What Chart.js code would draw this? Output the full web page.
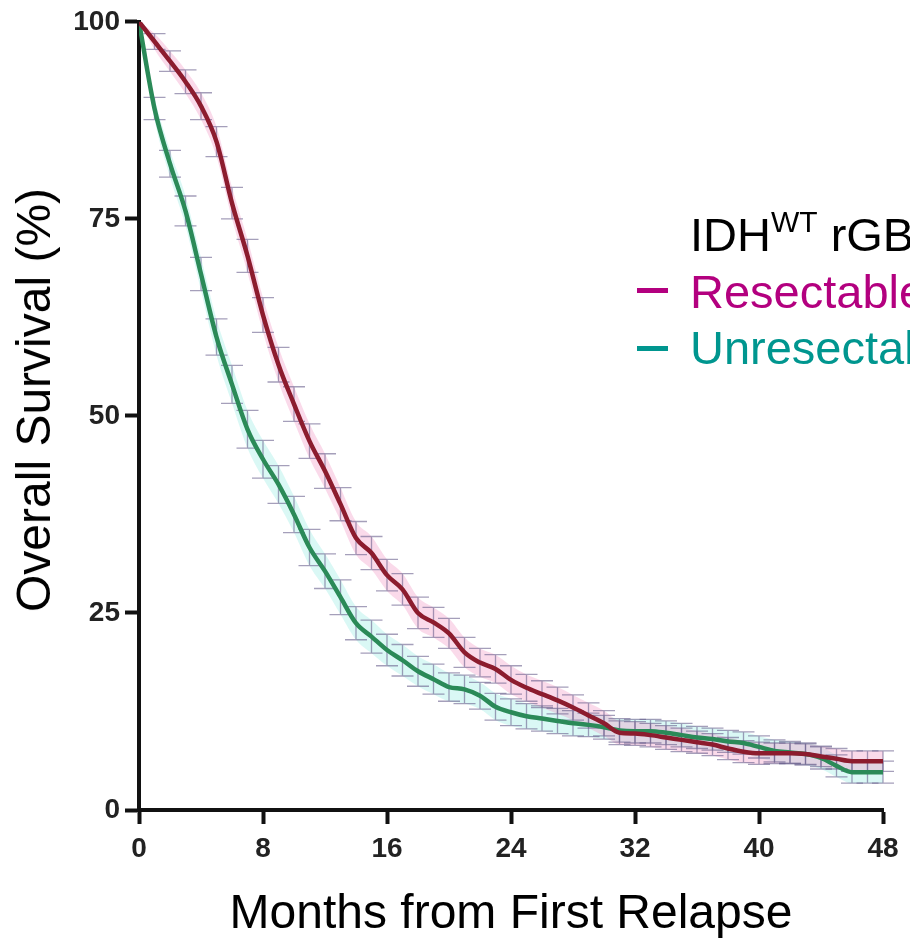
<!DOCTYPE html>
<html>
<head>
<meta charset="utf-8">
<script src="https://cdn.jsdelivr.net/npm/chart.js@4.4.1/dist/chart.umd.min.js"></script>
<style>
  html, body { margin: 0; padding: 0; background: #fff; overflow: hidden; }
  #wrap { position: relative; width: 910px; height: 944px; overflow: hidden; }
  #chart { position: absolute; left: 0; top: 0; }
  .leg { position: absolute; left: 690px; font-family: "Liberation Sans", Arial, sans-serif; font-size: 47px; line-height: 47px; white-space: nowrap; }
  .leg sup { font-size: 30px; position: relative; top: -4px; vertical-align: top; line-height: 30px; }
  .dash { position: absolute; left: 637px; width: 31px; height: 5px; }
  #ytitle { position: absolute; left: 34px; top: 400px; transform: translate(-50%, -50%) rotate(-90deg);
    font-family: "Liberation Sans", Arial, sans-serif; font-size: 48px; line-height: 48px; white-space: nowrap; color: #000; }
</style>
</head>
<body>
<div id="wrap">
  <canvas id="chart" width="910" height="944"></canvas>
  <div id="ytitle">Overall Survival (%)</div>
  <div class="leg" style="top:211px;color:#000">IDH<sup>WT</sup> rGBM</div>
  <div class="dash" style="top:288px;background:#b3007f"></div>
  <div class="leg" style="top:268px;color:#b3007f">Resectable</div>
  <div class="dash" style="top:346px;background:#00968f"></div>
  <div class="leg" style="top:324px;color:#00968f">Unresectable</div>
</div>
<script>
const months = [0, 1, 2, 3, 4, 5, 6, 7, 8, 9, 10, 11, 12, 13, 14, 15, 16, 17, 18, 19, 20, 21, 22, 23, 24,
  25, 26, 27, 28, 29, 30, 31, 32, 33, 34, 35, 36, 37, 38, 39, 40, 41, 42, 43, 44, 45, 46, 47, 48];

const resectable = [100, 97.5, 95, 92.4, 89.3, 84.8, 77, 70.3, 62.8, 56.5, 51.5, 46.8, 43, 38.8, 34.5, 32.6, 29.8, 28, 25,
  23.8, 22.4, 20, 18.7, 17.9, 16.5, 15.5, 14.7, 13.9, 13, 12, 11, 9.8, 9.7, 9.5, 9.2, 8.9, 8.6, 8.3, 7.8, 7.4,
  7.2, 7.2, 7.2, 7.1, 6.8, 6.5, 6.2, 6.2, 6.2];

const unresectable = [100, 89, 82, 76, 68, 60, 54, 48.3, 44.5, 41.3, 37.5, 33.3, 30.3, 27, 23.7, 22, 20.3, 19, 17.6,
  16.6, 15.6, 15.3, 14.5, 13.1, 12.4, 11.9, 11.6, 11.3, 11, 10.8, 10.5, 10.1, 10, 10, 9.8, 9.5, 9.2, 9, 8.7, 8.5,
  8, 7.5, 7.3, 7.1, 6.6, 5.6, 4.8, 4.8, 4.8];

const resectableErr = [0, 1, 1.3, 1.5, 1.7, 1.9, 2, 2.1, 2.2, 2.2, 2.2, 2.2, 2.2, 2.1, 2.1, 2.1, 2, 2, 2, 1.9, 1.9,
  1.9, 1.8, 1.8, 1.8, 1.7, 1.7, 1.7, 1.6, 1.6, 1.6, 1.5, 1.5, 1.5, 1.5, 1.5, 1.4, 1.4, 1.4, 1.4, 1.4, 1.3, 1.3,
  1.3, 1.3, 1.3, 1.3, 1.3, 1.3];

const unresectableErr = [0, 1.4, 1.7, 1.9, 2.1, 2.3, 2.4, 2.4, 2.4, 2.4, 2.3, 2.3, 2.2, 2.2, 2.1, 2.1, 2, 2, 1.9,
  1.9, 1.8, 1.8, 1.7, 1.7, 1.7, 1.6, 1.6, 1.6, 1.6, 1.5, 1.5, 1.5, 1.5, 1.5, 1.5, 1.5, 1.4, 1.4, 1.4, 1.4, 1.4,
  1.4, 1.4, 1.4, 1.4, 1.4, 1.4, 1.4, 1.4];

const xTicks = [0, 8, 16, 24, 32, 40, 48];
const yTicks = [0, 25, 50, 75, 100];

const RED = "#8c1c2e";
const GREEN = "#2b8a58";

function toPoints(values, offsets, sign) {
  return months.map((m, i) => ({ x: m, y: values[i] + (offsets ? sign * offsets[i] : 0) }));
}

function mainLine(values, color) {
  return {
    data: toPoints(values),
    borderColor: color,
    borderWidth: 4.5,
    pointRadius: 0,
    cubicInterpolationMode: "monotone",
    fill: false
  };
}

function bandEdge(values, errs, sign, fillColor) {
  return {
    data: toPoints(values, errs, sign),
    borderColor: "transparent",
    borderWidth: 0,
    pointRadius: 0,
    cubicInterpolationMode: "monotone",
    backgroundColor: fillColor,
    fill: sign < 0 ? "-1" : false
  };
}

// error bars with caps, drawn under the two main lines
const errorBars = {
  id: "errorBars",
  beforeDatasetDraw(chart, args) {
    if (args.index !== 1) return;
    const { ctx, scales: { x, y } } = chart;
    const sets = [[resectable, resectableErr], [unresectable, unresectableErr]];
    ctx.save();
    ctx.strokeStyle = "rgba(105, 95, 140, 0.6)";
    ctx.lineWidth = 1.3;
    sets.forEach(([vals, errs]) => {
      vals.forEach((v, i) => {
        if (!errs[i]) return;
        const px = x.getPixelForValue(months[i]);
        const top = y.getPixelForValue(v + errs[i]);
        const bot = y.getPixelForValue(v - errs[i]);
        ctx.beginPath();
        ctx.moveTo(px, top);
        ctx.lineTo(px, bot);
        ctx.moveTo(px - 11, top);
        ctx.lineTo(px + 11, top);
        ctx.moveTo(px - 11, bot);
        ctx.lineTo(px + 11, bot);
        ctx.stroke();
      });
    });
    ctx.restore();
  }
};

const tickFont = { family: "'Liberation Sans', Arial, sans-serif", size: 28, weight: "bold" };
const titleFont = { family: "'Liberation Sans', Arial, sans-serif", size: 48, weight: "normal" };

new Chart(document.getElementById("chart"), {
  type: "line",
  data: {
    datasets: [
      mainLine(resectable, RED),
      mainLine(unresectable, GREEN),
      bandEdge(resectable, resectableErr, 1, "rgba(240, 150, 195, 0.35)"),
      bandEdge(resectable, resectableErr, -1, "rgba(240, 150, 195, 0.35)"),
      bandEdge(unresectable, unresectableErr, 1, "rgba(150, 235, 225, 0.35)"),
      bandEdge(unresectable, unresectableErr, -1, "rgba(150, 235, 225, 0.35)")
    ]
  },
  options: {
    responsive: false,
    animation: false,
    layout: { padding: { top: 20, right: 27, bottom: 0, left: 0 } },
    plugins: {
      legend: { display: false },
      tooltip: { enabled: false }
    },
    scales: {
      x: {
        type: "linear",
        min: 0,
        max: 48,
        afterBuildTicks(axis) {
          axis.ticks = xTicks.map((v) => ({ value: v }));
        },
        afterFit(axis) {
          axis.height = 134;
        },
        border: { color: "#111", width: 4 },
        grid: { drawOnChartArea: false, drawTicks: true, tickLength: 14, tickWidth: 4, tickColor: "#111", color: "#111" },
        ticks: { font: tickFont, color: "#222", padding: 8, maxRotation: 0 },
        title: { display: true, text: "Months from First Relapse", font: titleFont, color: "#000", padding: { top: 0, bottom: 0 } }
      },
      y: {
        min: 0,
        max: 100,
        afterBuildTicks(axis) {
          axis.ticks = yTicks.map((v) => ({ value: v }));
        },
        afterFit(axis) {
          axis.width = 139;
        },
        border: { color: "#111", width: 4 },
        grid: { drawOnChartArea: false, drawTicks: true, tickLength: 14, tickWidth: 4, tickColor: "#111", color: "#111" },
        ticks: { font: tickFont, color: "#222", padding: 5 }
      }
    }
  },
  plugins: [errorBars]
});
</script>
</body>
</html>
